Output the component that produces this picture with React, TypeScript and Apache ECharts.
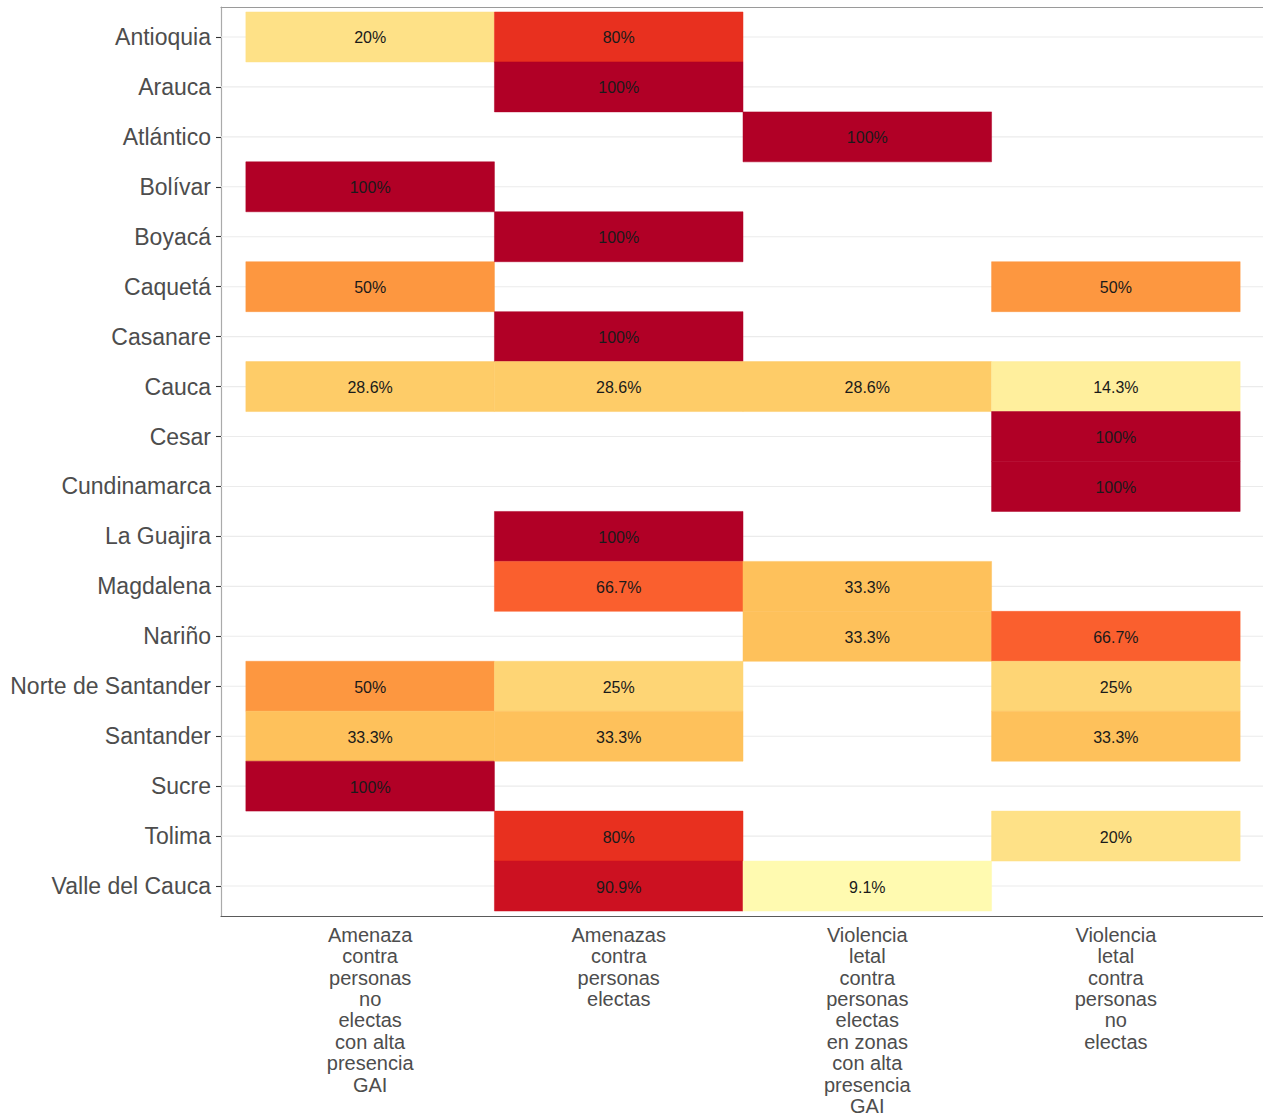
import React, { useEffect, useRef } from "react";
import * as echarts from "echarts";

const departments = [
  "Antioquia", "Arauca", "Atlántico", "Bolívar", "Boyacá", "Caquetá", "Casanare", "Cauca",
  "Cesar", "Cundinamarca", "La Guajira", "Magdalena", "Nariño", "Norte de Santander",
  "Santander", "Sucre", "Tolima", "Valle del Cauca",
];

const violenceTypes = [
  "Amenaza contra personas no electas con alta presencia GAI",
  "Amenazas contra personas electas",
  "Violencia letal contra personas electas en zonas con alta presencia GAI",
  "Violencia letal contra personas no electas",
];

const amenazaNoElectasGAI = [20, null, null, 100, null, 50, null, 28.6, null, null, null, null, null, 50, 33.3, 100, null, null];
const amenazasElectas = [80, 100, null, null, 100, null, 100, 28.6, null, null, 100, 66.7, null, 25, 33.3, null, 80, 90.9];
const letalElectasGAI = [null, null, 100, null, null, null, null, 28.6, null, null, null, 33.3, 33.3, null, null, null, null, 9.1];
const letalNoElectas = [null, null, null, null, null, 50, null, 14.3, 100, 100, null, null, 66.7, 25, 33.3, null, 20, null];

const columns = [amenazaNoElectasGAI, amenazasElectas, letalElectasGAI, letalNoElectas];

const paletteStops = [
  "#FFFFC4", "#FFFAAE", "#FEE187", "#FEC963", "#FEB04C", "#FD9740",
  "#FC7335", "#F9552B", "#E8301F", "#CF1321", "#B10026",
];

function wrap(text: string, width: number): string {
  const words = text.split(" ");
  const lines: string[] = [];
  let cur = "";
  for (const w of words) {
    if (cur === "") cur = w;
    else if ((cur + " " + w).length <= width) cur = cur + " " + w;
    else {
      lines.push(cur);
      cur = w;
    }
  }
  if (cur) lines.push(cur);
  return lines.join("\n");
}

const FONT = "'Liberation Sans', Arial, sans-serif";

export default function App() {
  const ref = useRef<HTMLDivElement>(null);

  useEffect(() => {
    document.body.style.margin = "0";
    if (!ref.current) return;
    const chart = echarts.init(ref.current, null, { renderer: "svg" });

    const tileData: any[] = [];
    columns.forEach((col, c) => {
      col.forEach((v, r) => {
        if (v !== null) tileData.push([c + 1, r + 1, v]);
      });
    });
    const gridData = departments.map((_, i) => [1, i + 1]);
    const rowTicks = departments.map((_, i) => i + 1);
    const colTicks = violenceTypes.map((_, i) => i + 1);
    const wrappedTypes = violenceTypes.map((t) => wrap(t, 9));

    const option: any = {
      animation: false,
      backgroundColor: "#ffffff",
      grid: {
        left: 221,
        right: -2,
        top: 7,
        bottom: 201,
        containLabel: false,
        outerBoundsMode: "none",
      },
      visualMap: {
        type: "continuous",
        show: false,
        min: 0,
        max: 100,
        dimension: 2,
        seriesIndex: 1,
        inRange: { color: paletteStops },
      },
      xAxis: [
        {
          type: "value",
          min: 0.4,
          max: 4.6,
          position: "bottom",
          axisLine: { show: true, onZero: false, lineStyle: { color: "#5a5a5a", width: 1.2 } },
          axisTick: { show: false },
          splitLine: { show: false },
          axisLabel: {
            customValues: colTicks,
            formatter: (v: number) => wrappedTypes[Math.round(v) - 1] ?? "",
            fontSize: 20,
            lineHeight: 21.4,
            color: "#4D4D4D",
            fontFamily: FONT,
            margin: 8,
            align: "center",
          },
        },
        {
          type: "value",
          min: 0.4,
          max: 4.6,
          position: "top",
          axisLine: { show: true, onZero: false, lineStyle: { color: "#9a9a9a", width: 1.2 } },
          axisTick: { show: false },
          axisLabel: { show: false },
          splitLine: { show: false },
        },
      ],
      yAxis: {
        type: "value",
        min: 0.4,
        max: 18.6,
        inverse: true,
        axisLine: { show: true, onZero: false, lineStyle: { color: "#aaaaaa", width: 1.2 } },
        axisTick: {
          show: true,
          customValues: rowTicks,
          length: 5,
          lineStyle: { color: "#333333", width: 1.1 },
        },
        splitLine: { show: false },
        axisLabel: {
          customValues: rowTicks,
          formatter: (v: number) => departments[Math.round(v) - 1] ?? "",
          fontSize: 23,
          color: "#4D4D4D",
          fontFamily: FONT,
          margin: 10,
        },
      },
      series: [
        {
          type: "custom",
          name: "grid",
          z: 1,
          silent: true,
          data: gridData,
          encode: { x: 0, y: 1 },
          renderItem: (params: any, api: any) => {
            const y = api.coord([api.value(0), api.value(1)])[1];
            const cs = params.coordSys;
            return {
              type: "line",
              shape: { x1: cs.x, y1: y, x2: cs.x + cs.width, y2: y },
              style: { stroke: "#EBEBEB", lineWidth: 1.1 },
            };
          },
        },
        {
          type: "custom",
          name: "tiles",
          z: 2,
          data: tileData,
          encode: { x: 0, y: 1 },
          renderItem: (params: any, api: any) => {
            const x = api.value(0);
            const y = api.value(1);
            const v = api.value(2);
            const p1 = api.coord([x - 0.5, y - 0.5]);
            const p2 = api.coord([x + 0.5, y + 0.5]);
            const rx = Math.min(p1[0], p2[0]);
            const ry = Math.min(p1[1], p2[1]);
            const w = Math.abs(p2[0] - p1[0]);
            const h = Math.abs(p2[1] - p1[1]);
            const color = api.visual("color");
            return {
              type: "group",
              children: [
                {
                  type: "rect",
                  shape: { x: rx, y: ry, width: w, height: h },
                  style: { fill: color, stroke: color, lineWidth: 0.5 },
                },
                {
                  type: "text",
                  x: rx + w / 2,
                  y: ry + h / 2 + 1,
                  style: {
                    text: v + "%",
                    fill: "#1a1a1a",
                    fontSize: 16,
                    fontFamily: FONT,
                    align: "center",
                    verticalAlign: "middle",
                  },
                },
              ],
            };
          },
        },
      ],
    };

    chart.setOption(option);
    return () => chart.dispose();
  }, []);

  return <div ref={ref} style={{ width: 1263, height: 1117 }} />;
}
